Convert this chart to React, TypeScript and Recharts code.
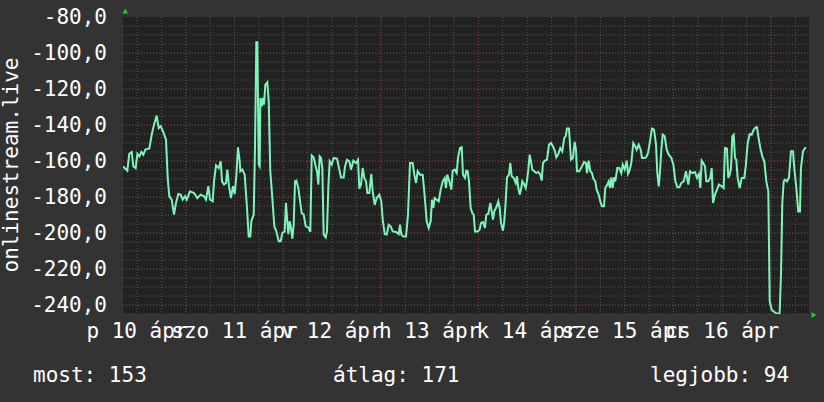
import { LineChart, Line, XAxis, YAxis, CartesianGrid } from 'recharts'

// hours since 2015-04-10 00:00
const hours = [
  8.6, 9.62, 10.11, 10.7, 11.1, 11.68, 12.09, 12.58, 13.07, 13.56, 14.06, 15.04, 15.62, 16.19, 16.85, 17.34,
  17.84, 18.48, 19.14, 19.56, 19.95, 20.54, 21.11, 21.6, 22.17, 22.76, 23.25, 23.82, 24.23, 25.05, 26.03, 26.84,
  27.68, 28.49, 28.98, 29.55, 29.97, 30.63, 30.95, 31.44, 32.11, 32.6, 32.92, 33.41, 33.9, 34.22, 34.64, 35.13,
  35.62, 36.04, 36.44, 36.85, 37.27, 37.43, 37.92, 38.5, 39.07, 39.49, 39.88, 40.13, 40.72, 41.04, 41.36, 41.61,
  41.95, 42.19, 42.35, 42.69, 43.01, 43.25, 43.58, 44.07, 44.41, 44.8, 45.3, 45.79, 46.28, 46.87, 47.36, 47.76,
  48.34, 48.66, 48.99, 49.23, 49.57, 49.89, 50.22, 50.56, 50.88, 51.21, 51.7, 52.03, 52.53, 53.02, 53.51, 54.16,
  54.65, 54.99, 55.48, 55.97, 56.29, 56.62, 56.95, 57.28, 57.6, 57.93, 58.43, 58.75, 59.08, 59.41, 59.9, 60.4,
  61.21, 61.7, 62.19, 62.86, 63.18, 63.67, 64.24, 64.66, 65.23, 65.89, 66.38, 66.71, 67.12, 67.53, 67.93, 68.35,
  68.67, 69.16, 69.65, 69.99, 70.49, 70.98, 71.62, 72.11, 72.46, 72.95, 73.44, 73.93, 74.42, 74.92, 75.73, 76.39,
  76.71, 77.03, 77.52, 78.19, 78.68, 79.17, 79.83, 80.23, 80.65, 81.06, 81.63, 82.29, 82.79, 83.28, 83.77, 84.26,
  84.58, 84.91, 85.25, 85.74, 86.23, 86.72, 87.22, 87.71, 88.03, 88.35, 88.84, 89.33, 89.68, 90.17, 90.66, 90.98,
  91.47, 91.89, 92.21, 92.7, 93.03, 93.37, 93.69, 94.1, 94.5, 94.84, 95.16, 95.83, 96.32, 96.64, 97.13, 97.62,
  97.94, 98.43, 98.93, 99.27, 99.59, 99.91, 100.41, 100.9, 101.24, 101.56, 102.05, 102.37, 102.72, 103.04, 103.53, 103.85,
  104.19, 104.68, 105.18, 105.5, 105.82, 106.16, 106.48, 106.8, 107.29, 107.64, 107.96, 108.28, 108.62, 108.94, 109.26, 109.75,
  110.24, 110.74, 111.23, 111.57, 111.89, 112.38, 112.87, 113.37, 113.86, 114.35, 114.84, 115.16, 115.66, 116.15, 116.64, 117.13,
  117.48, 117.8, 118.29, 118.78, 119.27, 119.69, 120.01, 120.26, 120.82, 121.49, 121.98, 122.47, 122.72, 123.13, 123.53, 123.95,
  124.27, 124.76, 125.1, 125.6, 126.09, 126.41, 126.9, 127.22, 127.72, 128.06, 128.38, 128.7, 129.04, 129.36, 129.69, 130.18,
  130.67, 131.16, 131.51, 132, 132.49, 132.81, 133.13, 133.62, 134.11, 134.61, 134.95, 135.44, 135.93, 136.25, 136.75, 137.24,
  137.73, 138.22, 138.71, 139.21, 139.7, 140.02, 140.37, 140.69, 141.01, 141.35, 141.84, 142.33, 142.83, 143.48, 143.97, 144.46,
  144.96, 145.45, 145.94, 146.52, 147.07, 147.64, 148.06, 148.63, 149.29, 149.78, 150.27, 150.6, 150.94, 151.33, 151.75, 152.07,
  152.56, 153.05, 153.4, 153.72, 154.21, 154.7, 155.19, 155.86, 156.35, 156.67, 157.16, 157.48, 157.83, 158.15, 158.47, 158.81,
  159.13, 159.45, 159.79, 160.29, 160.78, 161.42, 161.77, 162.26, 162.75, 163.24, 163.73, 164.23, 164.55, 164.87, 165.36, 165.85,
  166.35, 166.84, 167.33, 167.67, 168.16, 168.8, 169.63, 170.12, 170.45, 170.77, 171.11, 171.43, 171.92, 172.41, 172.91, 173.4,
  173.72, 174.21, 174.7, 175.12, 175.36, 175.86, 176.35, 176.67,
]

const values = [
  -163, -165.4, -156, -155, -163, -164, -156, -157.4, -155, -156.5, -153.7, -153, -145.4, -139.8, -134.8, -141.7,
  -140.7, -143.9, -148.1, -169.4, -179.6, -181.5, -189.8, -183.3, -178.3, -178.7, -181.5, -179.6, -181.5, -176.9, -177.8, -180.6,
  -178.7, -179.6, -181.5, -174, -181.5, -182.4, -171.3, -162.4, -163.9, -160.2, -171.3, -173.1, -172.2, -164.8, -174, -180.6,
  -174, -178.3, -168.5, -152.4, -160.2, -165.7, -164.8, -167.6, -186.1, -201.9, -201.9, -193.5, -189.8, -151.9, -94, -94,
  -162, -163, -125, -129.6, -125, -128.7, -117.6, -116.3, -126.9, -165.7, -180.6, -196.3, -199.1, -204.6, -204.6, -200,
  -199.1, -183.3, -193.5, -200.6, -193.5, -197.2, -203.1, -195.4, -171.3, -170.9, -175, -180.6, -188.9, -189.8, -196.3, -196.9,
  -199.4, -156.9, -158, -163, -165.7, -173.1, -157.4, -158.3, -163.9, -200.9, -202.4, -199.1, -174.6, -160.2, -162, -158.3,
  -158.7, -163.9, -169.1, -169.1, -163, -159.3, -160.2, -164.8, -159.8, -161.1, -159.3, -175.4, -173.1, -163.9, -169.4, -171.3,
  -177.8, -177.8, -167.2, -176.9, -184.3, -180.6, -178.7, -182.4, -192.6, -200.6, -200.9, -195.4, -196.3, -199.1, -199.4, -200.6,
  -195.4, -200.9, -201.9, -201.9, -189.8, -161.1, -161.1, -167.6, -172.2, -165.7, -167.6, -167.6, -179.6, -193.5, -197.2, -193.5,
  -181.5, -186.1, -180.6, -181.5, -182.4, -175.9, -171.3, -169.4, -175, -167.6, -171.3, -175.9, -165.4, -164.8, -166.7, -158.3,
  -152.8, -152.4, -167.6, -169.4, -165.4, -165.7, -171.3, -186.1, -188.9, -189.8, -199.1, -199.1, -198.1, -194.4, -193.9, -197.2,
  -189.8, -189.4, -183.3, -188, -192.6, -188, -185.7, -182.4, -186.1, -194.4, -198.7, -193.5, -182.4, -169.1, -167.6, -161.1,
  -168.5, -169.4, -172.2, -168.5, -175, -178.7, -175.9, -171.3, -173.1, -175, -170.9, -164.8, -156.5, -160.2, -164.8, -165.7,
  -166.7, -166.1, -167.6, -170.9, -161.1, -159.8, -159.3, -150.9, -150, -151.9, -154.6, -158, -156.1, -152.8, -154.6, -147.2,
  -146.3, -142, -142, -159.3, -158.3, -149.4, -153.7, -165.7, -165.7, -163, -160.6, -161.1, -166.7, -159.8, -165.7, -166.7,
  -169.8, -171.3, -175.9, -178.7, -183.3, -185.2, -185.2, -175, -173.1, -171.3, -175, -169.1, -175, -169.1, -171.3, -163.9,
  -163.9, -166.7, -162, -164.8, -159.8, -167.2, -165.7, -161.1, -150, -151.9, -153.7, -150.9, -153.7, -158.3, -158.3, -158,
  -155.6, -149.1, -142, -142.6, -150.9, -166.7, -174.1, -165.7, -153.7, -145.4, -146.3, -153.7, -156.5, -158.3, -162, -171.3,
  -174.6, -174.6, -172.2, -171.3, -165.7, -173.1, -165.7, -166.7, -166.1, -169.4, -167.2, -175, -159.8, -161.1, -163, -171.3,
  -171.3, -169.4, -163.9, -183.3, -178.7, -175.9, -173.1, -174, -175, -152.8, -153.1, -169.4, -167.6, -163.9, -146.3, -145.4,
  -158.3, -159.3, -169.4, -175, -169.4, -169.4, -163, -150, -145, -145.4, -142.6, -141.3, -141.3, -146.3, -152.8, -157.4,
  -160.2, -171.3, -176.9, -238, -242.6, -243.9, -245, -244.4, -223.1, -183.3, -171.3, -170.4, -171.3, -169.1, -154.6, -154.6,
  -163.9, -174.6, -188, -188, -163.9, -154.6, -152.8, -153,
]

const yTicks = [-80, -100, -120, -140, -160, -180, -200, -220, -240]
const dayHours = [12, 36, 60, 84, 108, 132, 156]
const dayLabels = ['p 10 ápr', 'szo 11 ápr', 'v 12 ápr', 'h 13 ápr', 'k 14 ápr', 'sze 15 ápr', 'cs 16 ápr']
const statLabels = ['most', 'átlag', 'legjobb']
const statValues = [153, 171, 94]

const FONT = '"DejaVu Sans Mono", monospace'

function range(from: number, to: number, step: number): number[] {
  const out: number[] = []
  for (let v = from; v <= to + 1e-9; v += step) out.push(v)
  return out
}

// grid: minor every 5 units / 6 h, major every 20 units / 24 h
const minorY = range(-245, -85, 5)
const majorY = range(-240, -100, 20)
const minorX = range(12, 174, 6)
const majorX = range(24, 168, 24)

const data = hours.map((h, i) => ({ h, v: values[i] }))

const statX = [33, 333, 650]

export default function App() {
  const tickStyle = { fill: '#ffffff', fontSize: 21, fontFamily: FONT }

  return (
    <div style={{ position: 'absolute', left: 0, top: 0, width: 824, height: 402, background: '#333333' }}>
      <LineChart width={824} height={402} data={data} margin={{ top: 17, right: 15, bottom: 87, left: 122 }}>
        <CartesianGrid
          fill="#222222"
          stroke="#575757"
          strokeDasharray="1 2"
          horizontalValues={minorY}
          verticalValues={minorX}
        />
        <CartesianGrid
          stroke="#8c3434"
          strokeDasharray="1 2"
          horizontalValues={majorY}
          verticalValues={majorX}
        />
        <XAxis
          dataKey="h"
          type="number"
          domain={[8.56, 177.34]}
          allowDataOverflow
          ticks={dayHours}
          interval={0}
          tickFormatter={(h) => dayLabels[dayHours.indexOf(h)] ?? ''}
          height={1}
          axisLine={false}
          tickLine={false}
          tickSize={0}
          tickMargin={9}
          tick={tickStyle}
        />
        <YAxis
          type="number"
          domain={[-245, -80]}
          allowDataOverflow
          ticks={yTicks}
          interval={0}
          tickFormatter={(v) => Number(v).toFixed(1).replace('.', ',')}
          width={1}
          axisLine={false}
          tickLine={false}
          tickSize={0}
          tickMargin={16}
          tick={tickStyle}
        />
        <Line
          type="linear"
          dataKey="v"
          stroke="#7df5b9"
          strokeWidth={2}
          dot={false}
          isAnimationActive={false}
        />
      </LineChart>

      <svg
        width={824}
        height={402}
        style={{ position: 'absolute', left: 0, top: 0, pointerEvents: 'none' }}
      >
        <text
          x={18}
          y={165}
          transform="rotate(-90 18 165)"
          textAnchor="middle"
          fill="#ffffff"
          fontSize={21}
          fontFamily={FONT}
        >
          onlinestream.live
        </text>
        {statLabels.map((label, i) => (
          <text key={label} x={statX[i]} y={382} fill="#ffffff" fontSize={21} fontFamily={FONT}>
            {`${label}: ${statValues[i]}`}
          </text>
        ))}
        <polygon points="122.5,13.5 128,13.5 125.3,8.5" fill="#1ed01e" />
        <polygon points="811.5,312 811.5,318 816.5,315" fill="#1ed01e" />
      </svg>
    </div>
  )
}
